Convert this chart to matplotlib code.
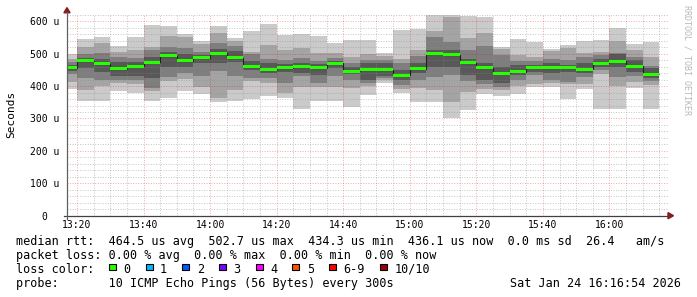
import numpy as np
import pandas as pd
import matplotlib
matplotlib.use("Agg")
import matplotlib.pyplot as plt
from matplotlib.patches import Rectangle, Polygon
from matplotlib.lines import Line2D

# ---------------- data (microseconds) ----------------
bar_end = pd.date_range("2026-01-24 13:20", periods=36, freq="5min")

ping1 = [390, 354, 355, 385, 380, 354, 364, 386, 376, 352, 354, 360, 369, 364, 329, 354, 354, 337,
         372, 409, 380, 351, 351, 302, 326, 375, 370, 375, 398, 398, 361, 391, 328, 329, 393, 328]
ping2 = [414, 388, 400, 410, 408, 386, 416, 421, 398, 364, 388, 416, 409, 378, 396, 396, 398, 393,
         400, 418, 392, 395, 388, 352, 383, 392, 388, 400, 408, 410, 405, 405, 437, 400, 414, 403]
ping3 = [438, 425, 418, 418, 420, 394, 429, 441, 432, 446, 430, 424, 424, 411, 431, 410, 431, 419,
         410, 424, 403, 419, 429, 434, 415, 408, 398, 419, 434, 419, 413, 427, 450, 429, 430, 415]
ping4 = [448, 455, 444, 430, 432, 424, 458, 460, 470, 470, 474, 450, 440, 445, 440, 434, 455, 437,
         419, 432, 420, 440, 460, 460, 434, 419, 410, 435, 444, 441, 445, 440, 458, 460, 444, 425]
ping5 = [455, 475, 466, 449, 458, 470, 490, 475, 485, 498, 485, 457, 449, 453, 457, 454, 467, 443,
         447, 447, 431, 450, 498, 493, 469, 454, 436, 441, 455, 454, 455, 450, 467, 474, 459, 433]
ping6 = [460, 481, 473, 457, 464, 478, 497, 482, 491, 506, 492, 463, 456, 459, 463, 460, 473, 449,
         453, 453, 437, 456, 506, 500, 476, 460, 443, 447, 461, 460, 461, 456, 473, 480, 465, 439]
ping7 = [465, 488, 485, 474, 474, 490, 505, 500, 495, 515, 508, 478, 470, 468, 470, 468, 476, 458,
         470, 470, 450, 470, 511, 511, 484, 470, 460, 465, 466, 470, 466, 470, 483, 499, 480, 455]
ping8 = [473, 500, 501, 490, 486, 512, 521, 517, 506, 532, 525, 499, 483, 480, 486, 477, 486, 470,
         480, 480, 470, 494, 551, 537, 511, 524, 497, 477, 476, 483, 482, 489, 495, 503, 490, 462]
ping9 = [485, 520, 533, 505, 512, 521, 555, 550, 529, 565, 539, 504, 527, 511, 519, 501, 503, 489,
         499, 493, 484, 510, 570, 612, 547, 563, 515, 496, 491, 507, 518, 501, 506, 540, 511, 489]
ping10 = [499, 545, 550, 525, 552, 589, 585, 561, 539, 585, 549, 570, 592, 558, 561, 555, 534, 542,
          542, 503, 574, 577, 620, 618, 616, 614, 520, 545, 537, 514, 527, 538, 542, 579, 530, 537]
median = [457, 478, 469, 453, 461, 474, 493, 478, 488, 502, 488, 460, 452, 456, 460, 457, 470, 446,
          450, 450, 434, 453, 502, 496, 472, 457, 439, 444, 458, 457, 457, 452, 470, 477, 462, 436]

x_tick_times = ["13:20", "13:40", "14:00", "14:20", "14:40", "15:00", "15:20", "15:40", "16:00"]
y_ticks = [0, 100, 200, 300, 400, 500, 600]
y_tick_labels = ["0  ", "100 u", "200 u", "300 u", "400 u", "500 u", "600 u"]

band_colors = ["#cacaca", "#a4a4a4", "#7e7e7e", "#585858", "#323232"]
loss_labels = ["0", "1", "2", "3", "4", "5", "6-9", "10/10"]
loss_colors = ["#26ff00", "#00b8ff", "#0059ff", "#7e00ff", "#ff00ff", "#ff5500", "#ff0000", "#a10000"]

stats_rtt = "median rtt:  464.5 us avg  502.7 us max  434.3 us min  436.1 us now  0.0 ms sd  26.4   am/s"
stats_loss = "packet loss: 0.00 % avg  0.00 % max  0.00 % min  0.00 % now"
probe_text = "probe:       10 ICMP Echo Pings (56 Bytes) every 300s"
date_text = "Sat Jan 24 16:16:54 2026"

# ---------------- figure ----------------
W, H = 697, 297
fig = plt.figure(figsize=(W / 100, H / 100), dpi=100)
fig.patch.set_facecolor("white")

def fx(x):
    return x / W

def fy(y):
    return 1 - y / H

ax_left, ax_right, ax_top, ax_bottom = 67, 668, 14, 215.7
ax = fig.add_axes([fx(ax_left), fy(ax_bottom), (ax_right - ax_left) / W, (ax_bottom - ax_top) / H])
ax.set_facecolor("white")

base = pd.Timestamp("2026-01-24 13:00")
ends = ((bar_end - base).total_seconds() / 60.0).to_numpy()
edges = np.concatenate([[ends[0] - 5], ends])
starts = edges[:-1]

pings = np.array([ping1, ping2, ping3, ping4, ping5, ping6, ping7, ping8, ping9, ping10], dtype=float)
med = np.array(median, dtype=float)

x_min, x_max = 17.0, 197.6
y_min, y_max = 0, 622.5
ax.set_xlim(x_min, x_max)
ax.set_ylim(y_min, y_max)

# smoke bands
for i in range(5):
    ax.stairs(pings[9 - i], edges, baseline=pings[i], fill=True,
              color=band_colors[i], linewidth=0, zorder=1 + i)

# grid (drawn over the smoke, like rrdtool)
minor_col = (0.55, 0.55, 0.55, 0.5)
major_col = (0.9, 0.0, 0.0, 0.35)
dots = (0, (1.0, 1.6))
tick_x = [int(t[:2]) * 60 + int(t[3:]) - 13 * 60 for t in x_tick_times]
for xv in np.arange(20, 196, 5):
    if xv in tick_x:
        continue
    ax.axvline(xv, color=minor_col, lw=0.7, ls=dots, zorder=6)
for xv in tick_x:
    ax.axvline(xv, color=major_col, lw=0.7, ls=dots, zorder=6)
for yv in np.arange(20, 621, 20):
    if yv % 100 == 0:
        continue
    ax.axhline(yv, color=minor_col, lw=0.7, ls=dots, zorder=6)
for yv in y_ticks[1:]:
    ax.axhline(yv, color=major_col, lw=0.7, ls=dots, zorder=6)

# median: dark step line + green loss band
ax.stairs(med, edges, baseline=None, color="#202020", linewidth=0.8, zorder=7)
half = 1.5 * (y_max - y_min) / (ax_bottom - ax_top)
ax.bar(starts, 2 * half, bottom=med - half, width=5, align="edge",
       color=loss_colors[0], linewidth=0, zorder=8)

for s in ax.spines.values():
    s.set_visible(False)

ax.set_xticks(tick_x)
ax.set_xticklabels(x_tick_times, family="DejaVu Sans Mono", fontsize=7, color="#000000")
ax.set_yticks(y_ticks)
ax.set_yticklabels(y_tick_labels, family="DejaVu Sans Mono", fontsize=7, color="#000000")
ax.tick_params(axis="x", length=0, pad=3.2)
ax.tick_params(axis="y", length=0, pad=5.4)

# axis lines with arrows
axis_col = "#404040"
arrow_col = "#8b1a1a"
fig.add_artist(Line2D([fx(64), fx(668.5)], [fy(215.7), fy(215.7)], color=axis_col, lw=0.9,
                      transform=fig.transFigure))
fig.add_artist(Line2D([fx(67), fx(67)], [fy(219), fy(12)], color="#606060", lw=0.9,
                      transform=fig.transFigure))
fig.add_artist(Polygon([[fx(668), fy(212.6)], [fx(673.5), fy(215.7)], [fx(668), fy(218.8)]],
                       closed=True, color=arrow_col, transform=fig.transFigure))
fig.add_artist(Polygon([[fx(63.9), fy(12.8)], [fx(67), fy(7.6)], [fx(70.1), fy(12.8)]],
                       closed=True, color=arrow_col, transform=fig.transFigure))

# labels
fig.text(fx(11), fy(114), "Seconds", rotation=90, ha="center", va="center",
         family="DejaVu Sans Mono", fontsize=8, color="#000000")
fig.text(fx(687.5), fy(60), "RRDTOOL / TOBI OETIKER", rotation=270, ha="center", va="center",
         family="DejaVu Sans Mono", fontsize=6, color="#b8b8b8")

mono = dict(family="DejaVu Sans Mono", fontsize=8.5, color="#000000", va="baseline")
fig.text(fx(16), fy(244.5), stats_rtt, ha="left", **mono)
fig.text(fx(16), fy(259.0), stats_loss, ha="left", **mono)
fig.text(fx(16), fy(272.8), "loss color:", ha="left", **mono)
fig.text(fx(16), fy(287.4), probe_text, ha="left", **mono)
fig.text(fx(681), fy(287.4), date_text, ha="right", **mono)

char_w = 7.1
xpos = 109.0
for lab, col in zip(loss_labels, loss_colors):
    fig.add_artist(Rectangle((fx(xpos), fy(270.3)), 6.8 / W, 6.8 / H, facecolor=col,
                             edgecolor="#000000", lw=0.8, transform=fig.transFigure))
    fig.text(fx(xpos + 14.3), fy(272.8), lab, ha="left", **mono)
    xpos += 14.3 + len(lab) * char_w + 15.3

fig.savefig("out.png", dpi=100, facecolor="white")
